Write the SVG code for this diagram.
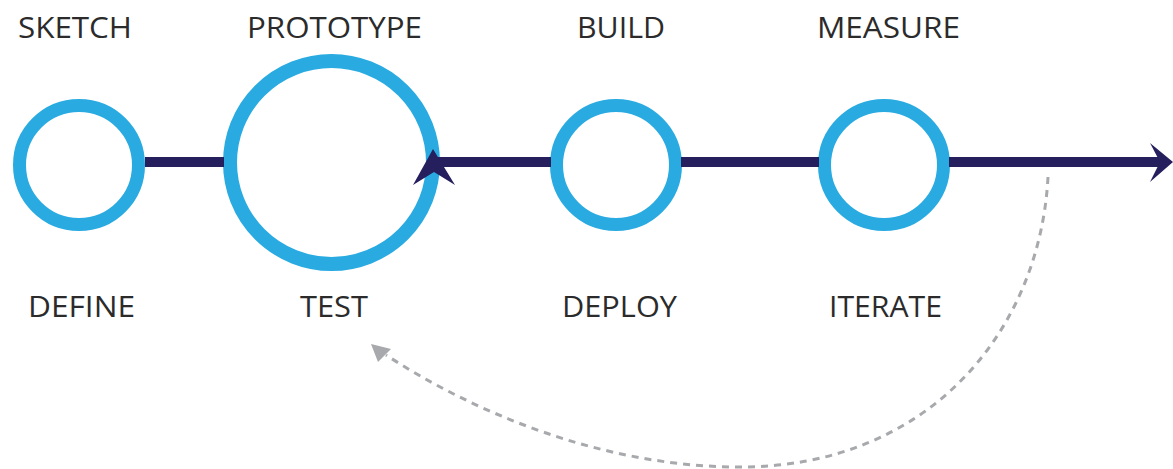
<svg xmlns="http://www.w3.org/2000/svg" width="1173" height="469" viewBox="0 0 1173 469">
<style>
.ring{fill:#fff;stroke:#29abe2;stroke-width:13}
.lbl{font-family:"Open Sans","Liberation Sans",sans-serif;font-size:30px;fill:#2b2b2b;text-anchor:middle}
.main{stroke:#251f5e;stroke-width:10;fill:none}
.head{fill:#251f5e}
.loop{stroke:#a7a9ac;stroke-width:3;fill:none;stroke-dasharray:7 6}
</style>
<rect width="1173" height="469" fill="#fff"/>
<g id="node-define">
<circle class="ring" cx="79" cy="165" r="59.5"/>
<text class="lbl" x="75" y="38" textLength="114" lengthAdjust="spacingAndGlyphs">SKETCH</text>
<text class="lbl" x="81.5" y="317" textLength="107" lengthAdjust="spacingAndGlyphs">DEFINE</text>
</g>
<g id="node-test">
<circle class="ring" cx="331.5" cy="162.5" r="101.5" style="stroke-width:14"/>
<text class="lbl" x="334.5" y="38" textLength="175" lengthAdjust="spacingAndGlyphs">PROTOTYPE</text>
<text class="lbl" x="334" y="317" textLength="68" lengthAdjust="spacingAndGlyphs">TEST</text>
</g>
<g id="node-deploy">
<circle class="ring" cx="616" cy="165" r="59.5"/>
<text class="lbl" x="621" y="38" textLength="88" lengthAdjust="spacingAndGlyphs">BUILD</text>
<text class="lbl" x="619.5" y="317" textLength="115" lengthAdjust="spacingAndGlyphs">DEPLOY</text>
</g>
<g id="node-iterate">
<circle class="ring" cx="884" cy="165" r="59.5"/>
<text class="lbl" x="888.5" y="38" textLength="143" lengthAdjust="spacingAndGlyphs">MEASURE</text>
<text class="lbl" x="885.5" y="317" textLength="113" lengthAdjust="spacingAndGlyphs">ITERATE</text>
</g>
<g id="connectors">
<line class="main" x1="145" y1="162" x2="224" y2="162"/>
<line class="main" x1="436" y1="162" x2="551" y2="162"/>
<line class="main" x1="681" y1="162" x2="819" y2="162"/>
<line class="main" x1="949" y1="162" x2="1162" y2="162"/>
<polygon class="head" points="1173,162 1150,143 1160,162 1150,182"/>
<polygon class="head" points="433,149 455,185 434,172 413,185"/>
<path class="loop" d="M1048,177 C1040,330 930,467 740,467 C600,467 470,410 386,355"/>
<polygon fill="#a7a9ac" points="371,344 391,349 378,362"/>
</g>
</svg>
